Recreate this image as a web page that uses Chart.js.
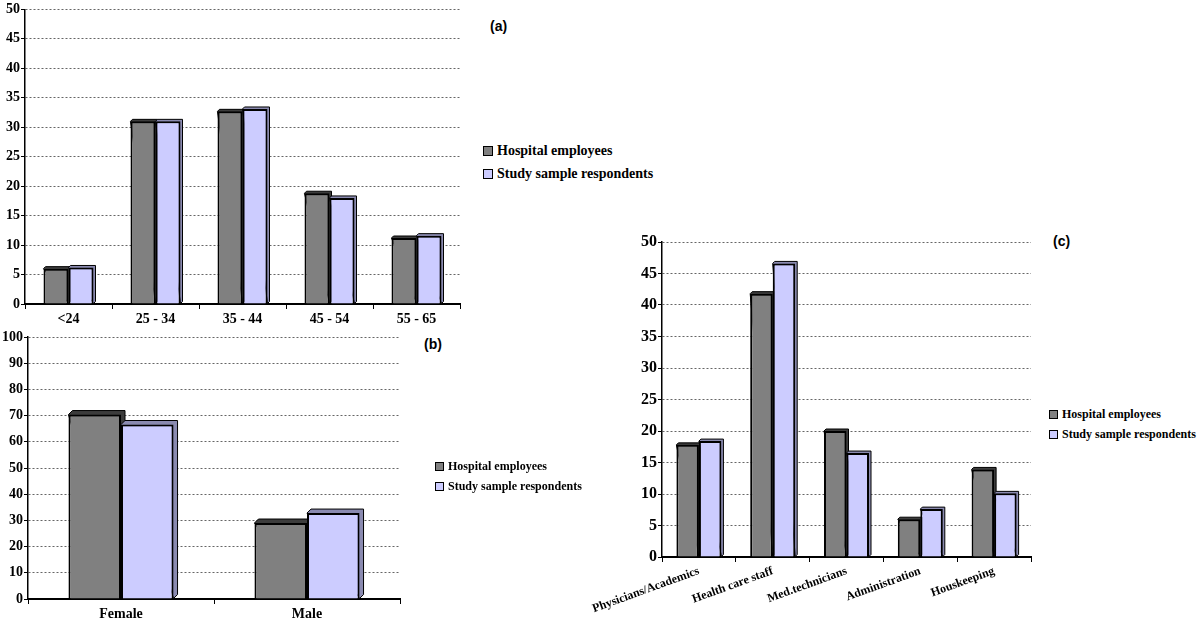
<!DOCTYPE html>
<html>
<head>
<meta charset="utf-8">
<script src="https://cdn.jsdelivr.net/npm/chart.js@4/dist/chart.umd.min.js"></script>
<style>
  body { margin: 0; background: #fff; width: 1200px; height: 623px; overflow: hidden; position: relative; }
  canvas { position: absolute; }
  .tag { position: absolute; font: bold 14px "Liberation Sans", Arial, sans-serif; color: #000; }
  .legend { position: absolute; font-family: "Liberation Serif", serif; font-weight: bold; color: #000; }
  .legend div { position: relative; white-space: nowrap; }
  .legend span { display: inline-block; border: 1px solid #000; margin-right: 4px; vertical-align: -1px; }
</style>
</head>
<body>
<canvas id="chartA"></canvas>
<canvas id="chartB"></canvas>
<canvas id="chartC"></canvas>
<div class="tag" style="left:490px;top:18px;">(a)</div>
<div class="tag" style="left:424px;top:336px;">(b)</div>
<div class="tag" style="left:1053px;top:233px;">(c)</div>
<div class="legend" id="legendA" style="left:483px;top:143px;font-size:14px;"></div>
<div class="legend" id="legendB" style="left:435px;top:459px;font-size:12px;"></div>
<div class="legend" id="legendC" style="left:1049px;top:407px;font-size:12px;"></div>
<script>
// series
const seriesNames = ['Hospital employees', 'Study sample respondents']
const seriesColors = ['#808080', '#CCCCFF']
const depthColors = ['#3c3c3c', '#8a8ab0']

// (a) age groups
const ageLabels = ['<24', '25 - 34', '35 - 44', '45 - 54', '55 - 65']
const ageHospital = [6.0, 31.0, 32.7, 18.8, 11.2]
const ageSample = [6.2, 31.0, 33.1, 18.0, 11.6]

// (b) gender
const sexLabels = ['Female', 'Male']
const sexHospital = [70.4, 29.0]
const sexSample = [66.6, 32.8]

// (c) job category
const jobLabels = ['Physicians/Academics', 'Health care staff', 'Med.technicians', 'Administration', 'Houskeeping']
const jobHospital = [17.8, 41.8, 20.0, 6.0, 13.9]
const jobSample = [18.4, 46.6, 16.5, 7.6, 10.1]

// little 3D depth behind each bar
const depthPlugin = {
  id: 'depth',
  beforeDatasetsDraw(chart, args, opts) {
    const ctx = chart.ctx
    const d = opts.size || 2
    chart.data.datasets.forEach((ds, i) => {
      const meta = chart.getDatasetMeta(i)
      meta.data.forEach(bar => {
        const l = bar.x - bar.width / 2
        const r = bar.x + bar.width / 2
        ctx.save()
        ctx.fillStyle = depthColors[i]
        ctx.strokeStyle = '#000'
        ctx.lineWidth = 1
        ctx.beginPath()
        ctx.moveTo(l, bar.y)
        ctx.lineTo(l + d, bar.y - d)
        ctx.lineTo(r + d, bar.y - d)
        ctx.lineTo(r + d, bar.base - d)
        ctx.lineTo(r, bar.base)
        ctx.closePath()
        ctx.fill()
        ctx.stroke()
        ctx.restore()
      })
    })
  }
}

function makeChart(id, box, labels, hosp, samp, cfg) {
  const canvas = document.getElementById(id)
  canvas.style.left = box.left + 'px'
  canvas.style.top = box.top + 'px'
  canvas.width = box.width
  canvas.height = box.height

  return new Chart(canvas, {
    type: 'bar',
    data: {
      labels: labels,
      datasets: [hosp, samp].map((values, i) => ({
        label: seriesNames[i],
        data: values,
        backgroundColor: seriesColors[i],
        borderColor: '#000',
        borderWidth: 2,
        borderSkipped: 'bottom',
        categoryPercentage: cfg.groupWidth,
        barPercentage: 1
      }))
    },
    plugins: [depthPlugin],
    options: {
      responsive: false,
      animation: false,
      layout: { padding: { top: cfg.padTop, right: cfg.padRight, left: 0, bottom: 0 } },
      plugins: {
        legend: { display: false },
        tooltip: { enabled: false },
        depth: { size: cfg.depth }
      },
      scales: {
        x: {
          afterFit: scale => { scale.height = cfg.xHeight },
          grid: { display: true, drawOnChartArea: false, tickLength: 5, tickColor: '#000', lineWidth: 1 },
          border: { color: '#000', width: 2 },
          ticks: {
            color: '#000',
            font: { family: 'Liberation Serif', weight: 'bold', size: cfg.xFont },
            maxRotation: cfg.rotate,
            minRotation: cfg.rotate,
            padding: cfg.xPad
          }
        },
        y: {
          min: 0,
          max: cfg.max,
          afterFit: scale => { scale.width = cfg.yWidth },
          // dotted grid lines, solid ticks
          grid: { color: '#666', lineWidth: 1, tickLength: 4, tickColor: '#000', tickBorderDash: [] },
          border: { color: '#000', width: 1.5, dash: [2, 2] },
          ticks: {
            stepSize: cfg.step,
            color: '#000',
            padding: 1,
            font: { family: 'Liberation Serif', weight: 'bold', size: cfg.yFont }
          }
        }
      }
    }
  })
}

const chartA = makeChart('chartA', { left: 0, top: 0, width: 468, height: 330 }, ageLabels, ageHospital, ageSample,
  { groupWidth: 0.575, padTop: 8, padRight: 8, xHeight: 26, yWidth: 25, max: 50, step: 5, xFont: 14, yFont: 14, rotate: 0, xPad: 2, depth: 2 })

const chartB = makeChart('chartB', { left: 0, top: 325, width: 405, height: 298 }, sexLabels, sexHospital, sexSample,
  { groupWidth: 0.565, padTop: 12, padRight: 5, xHeight: 24, yWidth: 28, max: 100, step: 10, xFont: 14, yFont: 14, rotate: 0, xPad: 2, depth: 4 })

const chartC = makeChart('chartC', { left: 570, top: 225, width: 470, height: 398 }, jobLabels, jobHospital, jobSample,
  { groupWidth: 0.61, padTop: 17, padRight: 9, xHeight: 66, yWidth: 92, max: 50, step: 5, xFont: 12, yFont: 16, rotate: 20, xPad: 2, depth: 2 })

// legends
function fillLegend(id, size) {
  const box = document.getElementById(id)
  seriesNames.forEach((name, i) => {
    const row = document.createElement('div')
    row.style.marginBottom = (id === 'legendA' ? 7 : 5) + 'px'
    const sw = document.createElement('span')
    sw.style.width = size + 'px'
    sw.style.height = size + 'px'
    sw.style.background = seriesColors[i]
    row.appendChild(sw)
    row.appendChild(document.createTextNode(name))
    box.appendChild(row)
  })
}
fillLegend('legendA', 8)
fillLegend('legendB', 7)
fillLegend('legendC', 7)
</script>
</body>
</html>
